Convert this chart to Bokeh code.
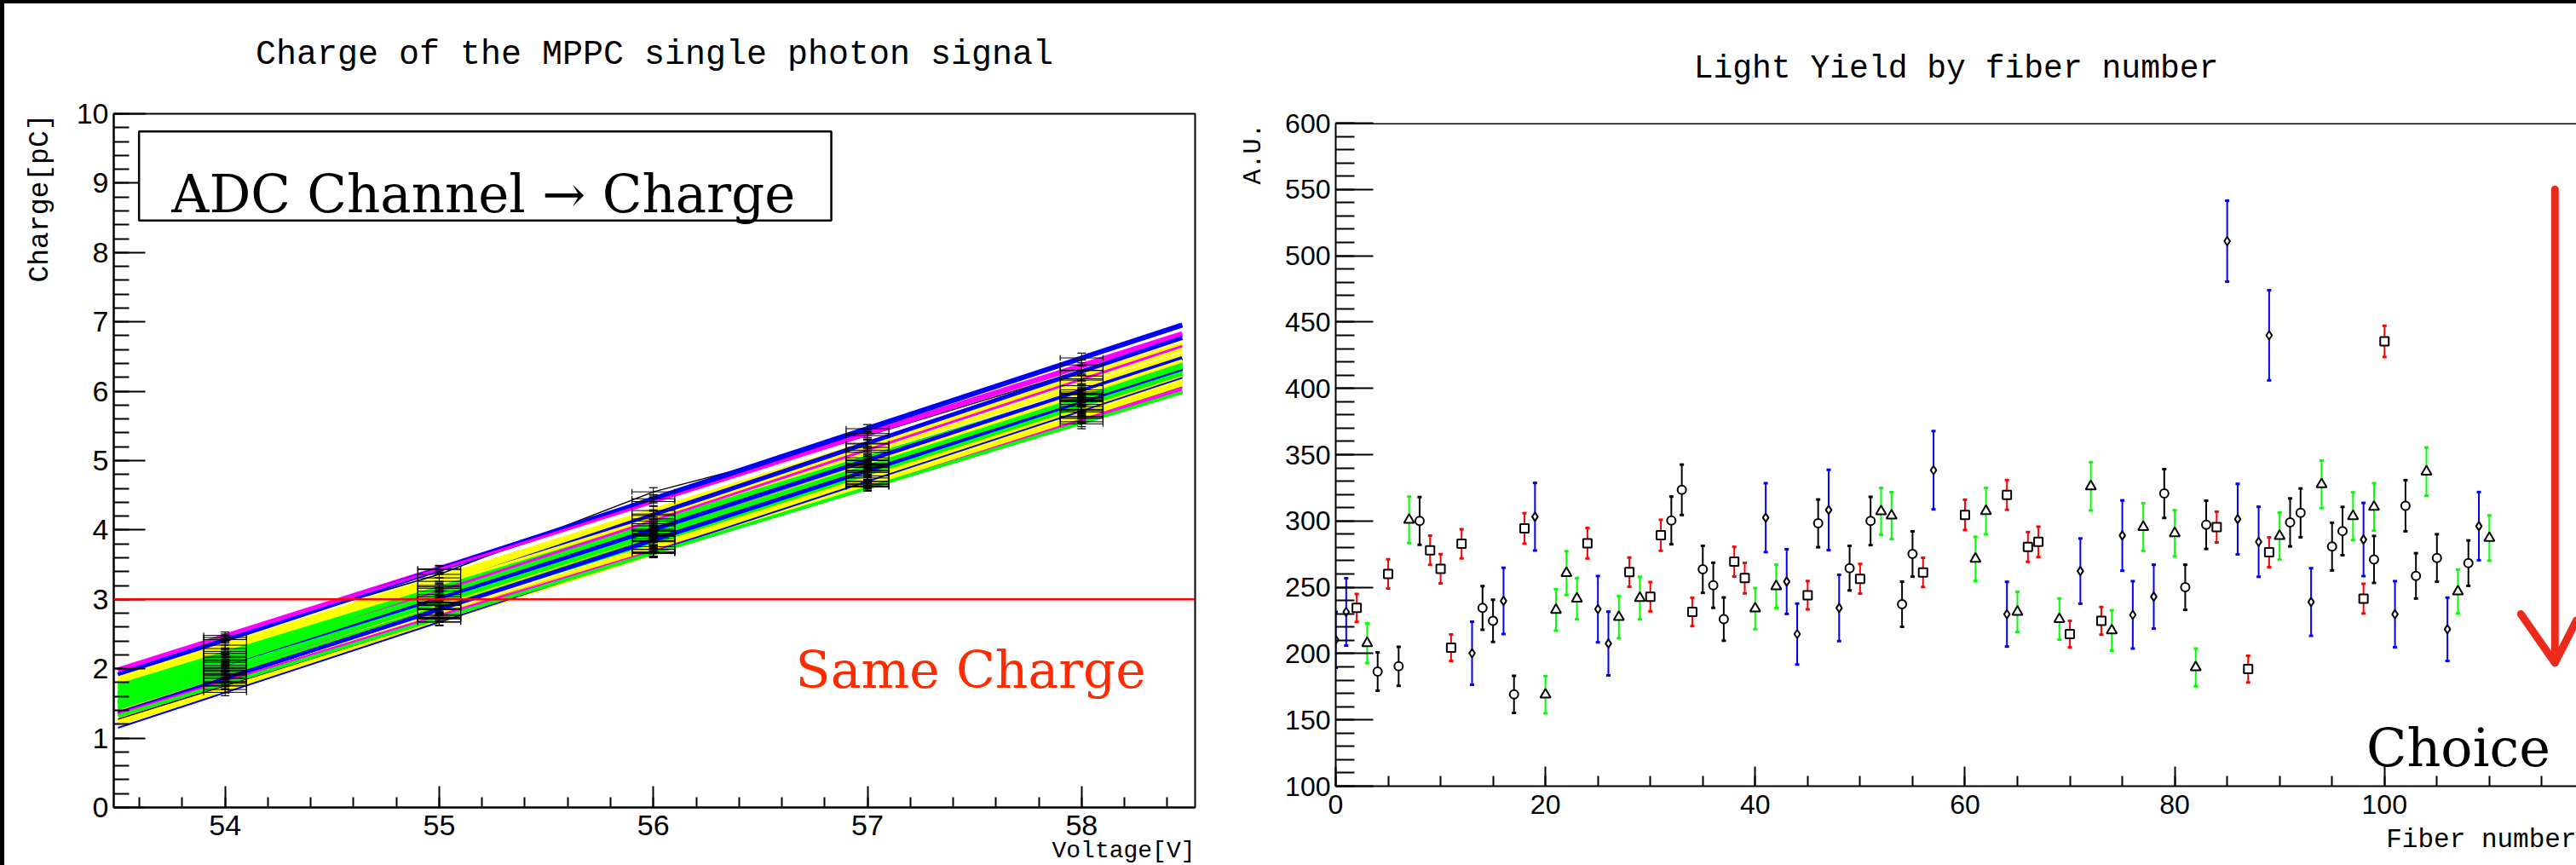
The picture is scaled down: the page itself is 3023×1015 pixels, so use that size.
import numpy as np
from bokeh.plotting import figure
from bokeh.layouts import row
from bokeh.models import Label, Span, BoxAnnotation, SingleIntervalTicker, Title
from bokeh.embed import file_html
from bokeh.resources import INLINE

# ---------------- left panel: charge vs voltage ----------------
left_title = "Charge of the MPPC single photon signal"
left_xlabel = "Voltage[V]"
left_ylabel = "Charge[pC]"
voltages = [54, 55, 56, 57, 58]
charge_sets = [
    [2.48, 3.44, 4.41, 5.39, 6.38],
    [2.42, 3.43, 4.45, 5.46, 6.48],
    [2.45, 3.36, 4.55, 5.36, 6.30],
    [2.34, 3.31, 4.28, 5.25, 6.22],
    [2.29, 3.26, 4.23, 5.19, 6.16],
    [2.16, 3.18, 4.21, 5.24, 6.30],
    [2.25, 3.20, 4.16, 5.12, 6.08],
    [2.22, 3.16, 4.09, 5.04, 5.99],
    [2.18, 3.12, 4.06, 5.01, 5.95],
    [2.11, 3.12, 4.13, 5.15, 6.18],
    [2.13, 3.07, 4.01, 4.96, 5.91],
    [2.09, 3.04, 3.98, 4.93, 5.88],
    [2.05, 3.00, 3.95, 4.90, 5.85],
    [2.02, 3.01, 3.99, 5.00, 6.02],
    [2.00, 2.95, 3.91, 4.86, 5.81],
    [1.96, 2.92, 3.88, 4.83, 5.78],
    [1.93, 2.93, 3.95, 4.95, 5.96],
    [1.90, 2.91, 3.92, 4.94, 5.97],
    [1.92, 2.87, 3.83, 4.78, 5.74],
    [1.86, 2.86, 3.85, 4.85, 5.86],
    [1.87, 2.85, 3.84, 4.85, 5.87],
    [1.80, 2.78, 3.76, 4.75, 5.73],
    [1.82, 2.76, 3.72, 4.67, 5.61],
    [1.75, 2.73, 3.72, 4.70, 5.70],
    [1.76, 2.72, 3.68, 4.66, 5.62],
    [1.80, 2.74, 3.68, 4.62, 5.56],
    [1.70, 2.68, 3.67, 4.65, 5.64],
    [1.66, 2.67, 3.68, 4.70, 5.72],
    [1.79, 2.72, 3.66, 4.63, 5.53],
    [1.98, 2.96, 3.93, 4.91, 5.90],
]
fit_colors = ["#ff00ff", "#0000ff", "#ff00ff", "#ffff00", "#ffff00", "#0000ff",
              "#ffff00", "#00ff00", "#00ff00", "#ff00ff", "#00ff00", "#00ff00",
              "#00ff00", "#0000ff", "#00ff00", "#00ff00", "#ff00ff", "#ffff00",
              "#00ff00", "#000000", "#0000ff", "#ffff00", "#ff00ff", "#ffff00",
              "#000000", "#ff00ff", "#ffff00", "#0000ff", "#00ff00", "#00ff00"]
fit_widths = [6, 6, 3, 6, 6, 5, 5, 6, 6, 3, 6, 6, 6, 5, 6, 6, 3, 4, 5, 1.5,
              5, 5, 3, 5, 1.5, 6, 5, 2, 4, 5]
voltage_err = 0.1
charge_err = [0.05, 0.05, 0.06, 0.06, 0.07]
same_charge_level = 3.0
left_box_text = "ADC Channel \u2192 Charge"
left_note = "Same Charge"

# ---------------- right panel: light yield by fiber ----------------
right_title = "Light Yield by fiber number"
right_xlabel = "Fiber number"
right_ylabel = "A.U."
right_note = "Choice"

circle_fiber = [4, 6, 8, 14, 15, 17, 32, 33, 35, 36, 37, 46, 49, 51, 54, 55,
                79, 81, 83, 91, 92, 95, 96, 99, 102, 103, 105, 108]
circle_ly = [186.4, 190.4, 300.0, 234.4, 224.7, 169.2, 300.4, 323.5, 263.5, 251.5,
             226.0, 298.2, 264.4, 300.0, 237.2, 275.1, 320.7, 250.0, 297.1, 298.9,
             306.1, 280.7, 292.4, 271.0, 311.5, 258.6, 272.1, 268.2]
circle_err = [14.5, 14.7, 18.0, 16.4, 15.9, 14.0, 18.0, 19.0, 17.7, 17.0, 16.3, 18.0,
              16.8, 18.2, 17.0, 17.1, 18.4, 17.0, 18.2, 18.1, 18.4, 18.0, 18.2, 17.7,
              19.3, 17.1, 17.9, 17.1]

square_fiber = [2, 5, 9, 10, 11, 12, 18, 24, 28, 30, 31, 34, 38, 39, 45, 50, 56,
                60, 64, 66, 67, 70, 73, 84, 87, 89, 98, 100]
square_ly = [234.4, 260.1, 277.9, 263.9, 204.4, 282.8, 294.4, 283.2, 261.4, 242.9,
             289.2, 231.4, 269.3, 256.9, 244.0, 256.4, 261.2, 304.6, 319.6, 280.4,
             284.3, 214.7, 224.7, 295.4, 188.3, 276.4, 241.4, 435.4]
square_err = [10.5, 11.0, 11.0, 11.0, 10.0, 11.0, 11.5, 11.5, 11.0, 11.0, 11.7, 10.7,
              11.2, 11.5, 10.7, 11.2, 11.0, 11.4, 11.2, 11.2, 11.4, 10.0, 10.4, 11.6,
              10.0, 11.2, 11.2, 11.8]

triangle_fiber = [3, 7, 20, 21, 22, 23, 27, 29, 40, 42, 52, 53, 61, 62, 65, 69,
                  72, 74, 77, 80, 82, 90, 94, 97, 99, 104, 107, 110]
triangle_ly = [207.8, 300.8, 169.0, 232.9, 260.7, 241.4, 227.5, 241.9, 233.9, 250.7,
               307.2, 304.0, 271.4, 307.4, 231.4, 226.0, 326.1, 217.4, 295.4, 290.7,
               189.6, 288.6, 327.6, 303.6, 310.6, 337.2, 246.8, 287.1]
triangle_err = [15.0, 17.5, 14.0, 15.6, 16.5, 15.5, 15.9, 16.0, 15.5, 16.3, 17.7,
                17.7, 16.6, 17.5, 15.2, 15.5, 18.2, 15.2, 17.9, 17.4, 14.2, 17.7,
                17.9, 18.0, 17.9, 18.2, 16.5, 17.1]

diamond_fiber = [0, 1, 13, 16, 19, 25, 26, 41, 43, 44, 47, 48, 57, 64, 71, 75, 76,
                 78, 85, 86, 88, 89, 93, 98, 101, 106, 109]
diamond_ly = [210.4, 231.4, 200.3, 239.7, 303.2, 233.5, 207.6, 302.5, 254.3, 214.7,
              308.3, 234.4, 338.3, 229.7, 262.2, 289.0, 229.2, 242.9, 511.0, 301.4,
              284.3, 440.0, 238.9, 286.0, 229.7, 218.3, 296.1]
diamond_err = [21.0, 25.4, 23.8, 25.0, 25.5, 25.0, 24.0, 26.0, 24.4, 23.0, 30.3,
               25.0, 29.5, 24.4, 24.6, 26.5, 25.4, 24.1, 30.5, 26.6, 26.4, 34.0,
               25.5, 27.6, 24.9, 23.9, 25.7]

# hand-drawn arrow annotation (data units of the right panel)
arrow_shaft_x = [116.25, 116.25]
arrow_shaft_y = [550, 193]
arrow_head_x = [113.0, 116.25, 118.3]
arrow_head_y = [229.8, 193, 225]

TICK_FONT = "Liberation Sans"
MONO = "Liberation Mono"
SERIF = "DejaVu Serif"

EDGE_LEFT = 5   # black slide edge on the left of the picture
EDGE_TOP = 4    # black slide edge on the top of the picture


def style_axis(ax, tick_in, minor_in, size, standoff):
    ax.major_tick_in = tick_in
    ax.major_tick_out = 0
    ax.minor_tick_in = minor_in
    ax.minor_tick_out = 0
    ax.axis_line_width = 2
    ax.major_tick_line_width = 2
    ax.minor_tick_line_width = 2
    ax.major_label_text_font = TICK_FONT
    ax.major_label_text_font_size = size
    ax.major_label_text_color = "black"
    ax.major_label_standoff = standoff


def style_title(t, size):
    t.text_font = MONO
    t.text_font_size = size
    t.text_font_style = "normal"
    t.text_color = "black"
    t.align = "center"
    t.standoff = 0


def mono_title(text, size, align, standoff, valign="bottom"):
    return Title(text=text, align=align, vertical_align=valign, text_font=MONO,
                 text_font_size=size, text_font_style="normal", text_color="black",
                 standoff=standoff)


def spacer(gap):
    return Title(text=" ", text_font_size="1px", standoff=gap)


def no_frame_align(p):
    if "frame_align" in p.properties():
        p.frame_align = False


# ======================= LEFT FIGURE =======================
x_lo, x_hi = 53.48, 58.53
p1 = figure(width=1410 - EDGE_LEFT, height=1015 - EDGE_TOP, x_range=(x_lo, x_hi), y_range=(0, 10),
            title=left_title, output_backend="svg", toolbar_location=None,
            min_border_left=132 - EDGE_LEFT, min_border_right=8,
            min_border_top=133 - EDGE_TOP, min_border_bottom=63)
no_frame_align(p1)
style_title(p1.title, "40px")
p1.add_layout(spacer(44), "above")
p1.grid.visible = False
p1.outline_line_color = "black"
p1.outline_line_width = 2
p1.background_fill_color = "white"
p1.border_fill_color = "white"
p1.xaxis.ticker = SingleIntervalTicker(interval=1, num_minor_ticks=5)
p1.yaxis.ticker = SingleIntervalTicker(interval=1, num_minor_ticks=5)
style_axis(p1.xaxis[0], 25, 12, "34px", 9)
style_axis(p1.yaxis[0], 37, 18, "34px", 6)

p1.add_layout(mono_title(left_ylabel, "33px", "right", 42), "left")
p1.add_layout(mono_title(left_xlabel, "28px", "right", 0, "top"), "below")

n_sets = len(charge_sets)
# black graphs (data points joined)
p1.multi_line(xs=[voltages] * n_sets, ys=charge_sets, line_color="black", line_width=1.5)

# linear fits
for ys, c, w in zip(charge_sets, fit_colors, fit_widths):
    coef = np.polyfit(voltages, ys, 1)
    xe = np.array([53.5, 58.47])
    p1.line(xe, np.polyval(coef, xe), line_color=c, line_width=w)

# error bars (drawn on top of the fits)
V = np.array([voltages] * n_sets, dtype=float).ravel()
Q = np.array(charge_sets).ravel()
E = np.array([charge_err] * n_sets).ravel()
cap_v = 0.04
cap_h = 0.02
p1.segment(x0=V - voltage_err, y0=Q, x1=V + voltage_err, y1=Q, line_color="black", line_width=1)
p1.segment(x0=V - voltage_err, y0=Q - cap_v, x1=V - voltage_err, y1=Q + cap_v, line_color="black", line_width=1.2)
p1.segment(x0=V + voltage_err, y0=Q - cap_v, x1=V + voltage_err, y1=Q + cap_v, line_color="black", line_width=1.2)
p1.segment(x0=V, y0=Q - E, x1=V, y1=Q + E, line_color="black", line_width=1)
p1.segment(x0=V - cap_h, y0=Q + E, x1=V + cap_h, y1=Q + E, line_color="black", line_width=1.2)
p1.segment(x0=V - cap_h, y0=Q - E, x1=V + cap_h, y1=Q - E, line_color="black", line_width=1.2)

p1.add_layout(Span(location=same_charge_level, dimension="width", line_color="#ff0000", line_width=2.5))

p1.add_layout(BoxAnnotation(left=53.598, right=56.831, top=9.744, bottom=8.462,
                            fill_color="white", fill_alpha=1.0, line_color="black",
                            line_alpha=1.0, line_width=2.5))
p1.add_layout(Label(x=53.75, y=8.85, text=left_box_text, text_font=SERIF,
                    text_font_size="61px", text_color="black", text_baseline="alphabetic"))
p1.add_layout(Label(x=56.664, y=1.98, text=left_note, text_font=SERIF,
                    text_font_size="60px", text_color="#ff2a00", text_baseline="alphabetic"))

# ======================= RIGHT FIGURE =======================
p2 = figure(width=1613, height=1015 - EDGE_TOP, x_range=(0, 118.3), y_range=(100, 600),
            title=right_title, output_backend="svg", toolbar_location=None,
            min_border_left=157, min_border_right=0,
            min_border_top=144 - EDGE_TOP, min_border_bottom=93)
no_frame_align(p2)
style_title(p2.title, "38px")
p2.add_layout(spacer(40), "above")
p2.grid.visible = False
p2.outline_line_color = None
p2.background_fill_color = "white"
p2.border_fill_color = "white"
p2.xaxis.ticker = SingleIntervalTicker(interval=20, num_minor_ticks=4)
p2.yaxis.ticker = SingleIntervalTicker(interval=50, num_minor_ticks=5)
style_axis(p2.xaxis[0], 23, 12, "32px", 10)
style_axis(p2.yaxis[0], 44, 22, "32px", 6)
p2.add_layout(Span(location=600, dimension="width", line_color="black", line_width=3))

p2.add_layout(mono_title(right_ylabel, "30px", "right", 36), "left")
p2.add_layout(mono_title(right_xlabel, "31px", "right", 20, "top"), "below")


def draw_series(fib, ly, err, marker, bar_color, size):
    fib = np.array(fib, dtype=float)
    ly = np.array(ly, dtype=float)
    err = np.array(err, dtype=float)
    p2.segment(x0=fib, y0=ly - err, x1=fib, y1=ly + err, line_color=bar_color, line_width=2)
    p2.scatter(x=np.concatenate([fib, fib]), y=np.concatenate([ly - err, ly + err]),
               marker="dash", size=5, line_color=bar_color, line_width=3)
    p2.scatter(x=fib, y=ly, marker=marker, size=size, line_color="black",
               fill_color="white", line_width=2)


draw_series(square_fiber, square_ly, square_err, "square", "#ff0000", 10)
draw_series(triangle_fiber, triangle_ly, triangle_err, "triangle", "#00ff00", 12)
draw_series(diamond_fiber, diamond_ly, diamond_err, "diamond", "#0000ff", 10)
draw_series(circle_fiber, circle_ly, circle_err, "circle", "black", 10)

p2.line(arrow_shaft_x, arrow_shaft_y, line_color="#ec2a1c", line_width=9, line_cap="round")
p2.line(arrow_head_x, arrow_head_y, line_color="#ec2a1c", line_width=9, line_cap="round",
        line_join="round")

p2.add_layout(Label(x=98.27, y=129.1, text=right_note, text_font=SERIF, text_font_size="62px",
                    text_color="black", text_baseline="alphabetic"))

layout = row(p1, p2, styles={"border-top": f"{EDGE_TOP}px solid black",
                             "border-left": f"{EDGE_LEFT}px solid black"})
open("out.html", "w").write(file_html(layout, INLINE))
